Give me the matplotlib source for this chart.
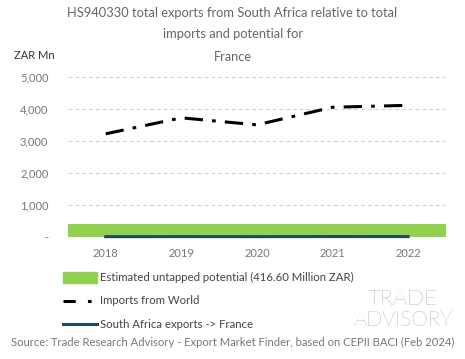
import numpy as np
import matplotlib
matplotlib.use("Agg")
import matplotlib.pyplot as plt
from matplotlib.patches import Rectangle
from matplotlib.lines import Line2D

years = ["2018", "2019", "2020", "2021", "2022"]
imports_world = [3220, 3720, 3500, 4050, 4110]
sa_exports = [8, 10, 9, 12, 11]
untapped = 416.60
yticks = [0, 1000, 2000, 3000, 4000, 5000]
ytick_labels = ["-", "1,000", "2,000", "3,000", "4,000", "5,000"]

plt.rcParams['font.family'] = ['Lato', 'DejaVu Sans']
grey = "#777777"

fig = plt.figure(figsize=(4.65, 3.59), dpi=100)
ax = fig.add_axes([0.146, 0.340, 0.813, 0.446])

x = np.arange(len(years))
ax.set_xlim(-0.5, len(years) - 0.5)
ax.set_ylim(0, 5000)

# untapped potential band across whole width
ax.bar(x, [untapped] * len(years), width=1.0, color="#92d050", zorder=2)
ax.plot(x, imports_world, color="black", lw=2.2, dashes=(6, 3, 1.2, 3), zorder=3)
ax.plot(x, sa_exports, color="#1d4a5c", lw=2.2, zorder=4, clip_on=False)

ax.set_yticks(yticks)
ax.set_yticklabels(ytick_labels)
ax.set_xticks(x)
ax.set_xticklabels(years)
ax.tick_params(length=0, labelsize=8, colors=grey, pad=8)
ax.tick_params(axis="y", pad=14)
for s in ax.spines.values():
    s.set_visible(False)
ax.grid(axis="y", color="#d0d0d0", ls=(0, (4, 3)), lw=0.7, zorder=0)
ax.set_axisbelow(True)

fig.text(0.03, 0.835, "ZAR Mn", fontsize=8, color="#333333")

fig.text(0.5, 0.965, "HS940330 total exports from South Africa relative to total",
         ha="center", va="center", fontsize=9.3, color="#666666")
fig.text(0.5, 0.905, "imports and potential for", ha="center", va="center",
         fontsize=9.3, color="#666666")
fig.text(0.5, 0.842, "France", ha="center", va="center", fontsize=9.3, color="#666666")

# legend, drawn by hand in figure coordinates
fig.patches.append(Rectangle((0.136, 0.212), 0.072, 0.03, transform=fig.transFigure,
                             color="#92d050", figure=fig))
fig.text(0.215, 0.227, "Estimated untapped potential (416.60 Million ZAR)",
         va="center", fontsize=8.2, color="#444444")
fig.lines.append(Line2D([0.136, 0.208], [0.161, 0.161], transform=fig.transFigure,
                        color="black", lw=2.2, dashes=(4, 4, 1.2, 4)))
fig.text(0.215, 0.163, "Imports from World", va="center", fontsize=8.2, color="#444444")
fig.lines.append(Line2D([0.136, 0.208], [0.097, 0.097], transform=fig.transFigure,
                        color="#1d4a5c", lw=2.2))
fig.text(0.215, 0.097, "South Africa exports -> France", va="center", fontsize=8.2,
         color="#444444")

fig.text(0.5, 0.045, "Source: Trade Research Advisory - Export Market Finder, based on CEPII BACI (Feb 2024)",
         ha="center", va="center", fontsize=8.1, color="#777777")

fig.text(0.866, 0.168, "TRADE", ha="center", va="center", fontsize=16,
         color="#6f6f6f", fontweight="light")
fig.text(0.866, 0.108, "ADVISORY", ha="center", va="center", fontsize=15,
         color="#6f6f6f", fontweight="light")

fig.savefig("out.png", dpi=100)
